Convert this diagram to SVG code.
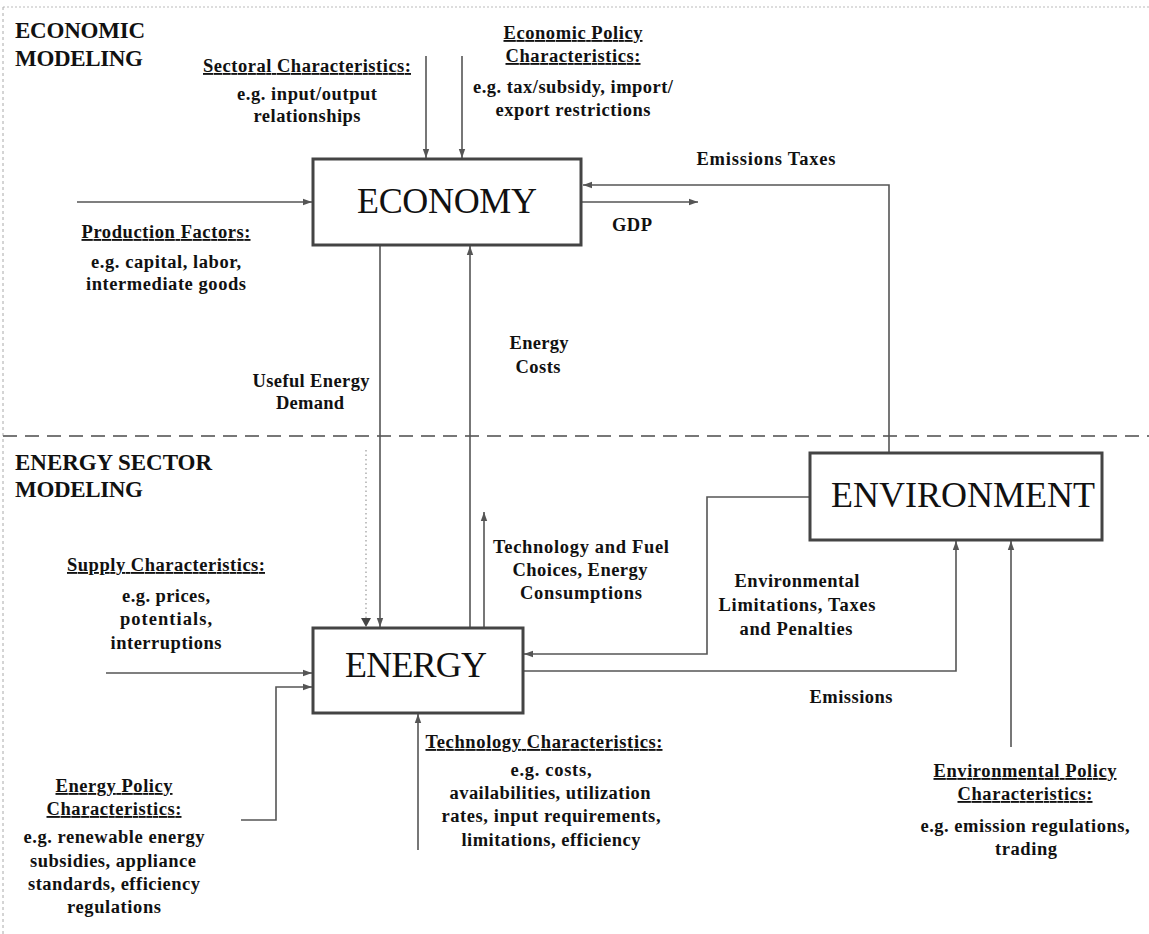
<svg xmlns="http://www.w3.org/2000/svg" width="1149" height="934" viewBox="0 0 1149 934">
  <style>
    .lbl { font-family: "Liberation Serif", "Times New Roman", serif; font-weight: bold; font-size: 18.5px; fill: #111; text-anchor: middle; }
    .ul { text-decoration: underline; }
    .sec { font-family: "Liberation Serif", "Times New Roman", serif; font-weight: bold; font-size: 23px; fill: #111; }
    .big { font-family: "Liberation Serif", "Times New Roman", serif; font-size: 36px; fill: #111; text-anchor: middle; }
    .box { fill: #fff; stroke: #444; stroke-width: 3; }
    .conn { fill: none; stroke: #555; stroke-width: 1.6; }
    .dots { fill: none; stroke: #999; stroke-width: 1.2; stroke-dasharray: 1.5 3; }
  </style>
  <defs>
    <marker id="arr" markerUnits="userSpaceOnUse" markerWidth="10" markerHeight="8" refX="9" refY="4" orient="auto">
      <path d="M0,0.8 L9,4 L0,7.2 Z" fill="#555"/>
    </marker>
  </defs>

  <rect width="1149" height="934" fill="#fff"/>

  <!-- page frame and section divider -->
  <g id="frame">
    <line x1="3" y1="7" x2="1149" y2="7" stroke="#bbb" stroke-width="1" stroke-dasharray="2 2"/>
    <line x1="3" y1="7" x2="3" y2="934" stroke="#aaa" stroke-width="1" stroke-dasharray="3 3"/>
    <line x1="3" y1="436" x2="1149" y2="436" stroke="#777" stroke-width="2" stroke-dasharray="14 8"/>
    <text class="sec" x="15" y="38" textLength="130">ECONOMIC</text>
    <text class="sec" x="15" y="66" textLength="128">MODELING</text>
    <text class="sec" x="15" y="470" textLength="197">ENERGY SECTOR</text>
    <text class="sec" x="15" y="497" textLength="128">MODELING</text>
  </g>

  <!-- connectors -->
  <g id="connectors">
    <line class="conn" x1="426" y1="56" x2="426" y2="158" marker-end="url(#arr)"/>
    <line class="conn" x1="462" y1="56" x2="462" y2="158" marker-end="url(#arr)"/>
    <line class="conn" x1="77" y1="202" x2="312" y2="202" marker-end="url(#arr)"/>
    <polyline class="conn" points="889,453 889,185 583,185" marker-end="url(#arr)"/>
    <line class="conn" x1="582" y1="202" x2="698" y2="202" marker-end="url(#arr)"/>
    <line class="conn" x1="380" y1="245" x2="380" y2="627" marker-end="url(#arr)"/>
    <line class="conn" x1="470" y1="628" x2="470" y2="246" marker-end="url(#arr)"/>
    <line class="dots" x1="366" y1="450" x2="366" y2="620"/>
    <path d="M361,618 L371,618 L366,627 Z" fill="#444"/>
    <line class="conn" x1="484" y1="628" x2="484" y2="512" marker-end="url(#arr)"/>
    <polyline class="conn" points="810,497 707,497 707,654 524,654" marker-end="url(#arr)"/>
    <polyline class="conn" points="523,671 956,671 956,541" marker-end="url(#arr)"/>
    <line class="conn" x1="106" y1="673" x2="312" y2="673" marker-end="url(#arr)"/>
    <polyline class="conn" points="241,820 276,820 276,687 312,687" marker-end="url(#arr)"/>
    <line class="conn" x1="418" y1="850" x2="418" y2="714" marker-end="url(#arr)"/>
    <line class="conn" x1="1011" y1="747" x2="1011" y2="541" marker-end="url(#arr)"/>
  </g>

  <!-- main blocks -->
  <g id="economy">
    <rect class="box" x="313" y="159" width="268" height="86"/>
    <text class="big" x="447" y="213" textLength="180">ECONOMY</text>
  </g>
  <g id="energy">
    <rect class="box" x="313" y="628" width="210" height="85"/>
    <text class="big" x="416" y="677" textLength="142">ENERGY</text>
  </g>
  <g id="environment">
    <rect class="box" x="810" y="453" width="292" height="87"/>
    <text class="big" x="963" y="507" textLength="264">ENVIRONMENT</text>
  </g>

  <!-- input characteristics -->
  <g id="sectoral">
    <text class="lbl ul" x="307" y="72" textLength="208">Sectoral Characteristics:</text>
    <text class="lbl" x="307" y="100" textLength="140">e.g. input/output</text>
    <text class="lbl" x="307" y="122" textLength="107">relationships</text>
  </g>
  <g id="economic-policy">
    <text class="lbl ul" x="573" y="39" textLength="139">Economic Policy</text>
    <text class="lbl ul" x="573" y="62" textLength="135">Characteristics:</text>
    <text class="lbl" x="573" y="93" textLength="200">e.g. tax/subsidy, import/</text>
    <text class="lbl" x="573" y="116" textLength="155">export restrictions</text>
  </g>
  <g id="production-factors">
    <text class="lbl ul" x="166" y="238" textLength="169">Production Factors:</text>
    <text class="lbl" x="166" y="268" textLength="150">e.g. capital, labor,</text>
    <text class="lbl" x="166" y="290" textLength="160">intermediate goods</text>
  </g>
  <g id="supply">
    <text class="lbl ul" x="166" y="571" textLength="198">Supply Characteristics:</text>
    <text class="lbl" x="166" y="602" textLength="88">e.g. prices,</text>
    <text class="lbl" x="166" y="625" textLength="92">potentials,</text>
    <text class="lbl" x="166" y="649" textLength="111">interruptions</text>
  </g>
  <g id="energy-policy">
    <text class="lbl ul" x="114" y="792" textLength="117">Energy Policy</text>
    <text class="lbl ul" x="114" y="815" textLength="135">Characteristics:</text>
    <text class="lbl" x="114" y="843" textLength="181">e.g. renewable energy</text>
    <text class="lbl" x="113" y="867" textLength="166">subsidies, appliance</text>
    <text class="lbl" x="114" y="890" textLength="172">standards, efficiency</text>
    <text class="lbl" x="114" y="913" textLength="94">regulations</text>
  </g>
  <g id="technology">
    <text class="lbl ul" x="544" y="748" textLength="237">Technology Characteristics:</text>
    <text class="lbl" x="551" y="776" textLength="81">e.g. costs,</text>
    <text class="lbl" x="550" y="799" textLength="201">availabilities, utilization</text>
    <text class="lbl" x="551" y="822" textLength="219">rates, input requirements,</text>
    <text class="lbl" x="551" y="846" textLength="179">limitations, efficiency</text>
  </g>
  <g id="environmental-policy">
    <text class="lbl ul" x="1025" y="777" textLength="183">Environmental Policy</text>
    <text class="lbl ul" x="1025" y="800" textLength="135">Characteristics:</text>
    <text class="lbl" x="1025" y="832" textLength="209">e.g. emission regulations,</text>
    <text class="lbl" x="1026" y="855" textLength="62">trading</text>
  </g>

  <!-- flow labels -->
  <g id="flow-labels">
    <text class="lbl" x="766" y="165" textLength="139">Emissions Taxes</text>
    <text class="lbl" x="632" y="231" textLength="40">GDP</text>
    <text class="lbl" x="539" y="349" textLength="59">Energy</text>
    <text class="lbl" x="538" y="373" textLength="45">Costs</text>
    <text class="lbl" x="311" y="387" textLength="117">Useful Energy</text>
    <text class="lbl" x="310" y="409" textLength="68">Demand</text>
    <text class="lbl" x="581" y="553" textLength="176">Technology and Fuel</text>
    <text class="lbl" x="580" y="576" textLength="135">Choices, Energy</text>
    <text class="lbl" x="581" y="599" textLength="122">Consumptions</text>
    <text class="lbl" x="797" y="587" textLength="125">Environmental</text>
    <text class="lbl" x="797" y="611" textLength="157">Limitations, Taxes</text>
    <text class="lbl" x="796" y="635" textLength="113">and Penalties</text>
    <text class="lbl" x="851" y="703" textLength="83">Emissions</text>
  </g>
</svg>
